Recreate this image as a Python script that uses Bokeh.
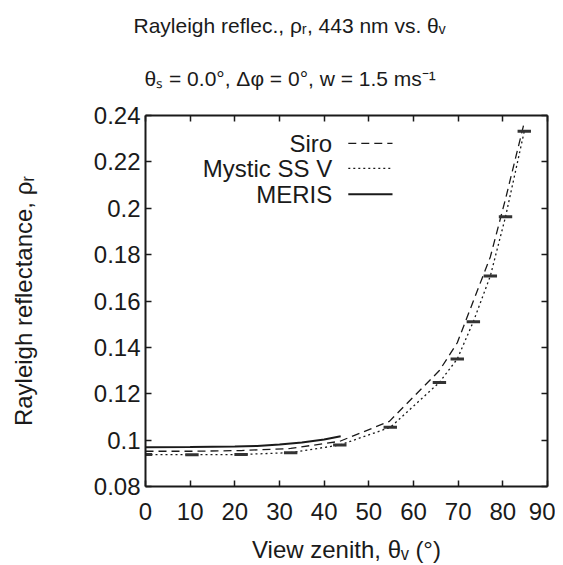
from bokeh.plotting import figure
from bokeh.models import Range1d, FixedTicker, LinearAxis, CustomJSTickFormatter, Label, Title
from bokeh.embed import file_html
from bokeh.resources import INLINE

# ---------------- data ----------------
mystic_theta = [0.0, 10.4, 21.4, 32.5, 43.5, 54.8, 65.8, 69.8, 73.4, 77.2, 80.6, 84.8]
mystic_rho = [0.0938, 0.0937, 0.0938, 0.0946, 0.0979, 0.1055, 0.1249, 0.1350, 0.1511, 0.1708, 0.1963, 0.2332]
mystic_xerr = [1.5, 1.5, 1.5, 1.5, 1.5, 1.5, 1.5, 1.5, 1.5, 1.5, 1.5, 1.5]

siro_theta = [0.0, 10.4, 21.4, 32.5, 43.5, 54.6, 65.8, 69.8, 73.4, 77.2, 80.6, 84.8]
siro_rho = [0.0952, 0.0952, 0.0955, 0.0964, 0.0995, 0.1081, 0.1300, 0.1420, 0.1600, 0.1790, 0.2040, 0.2370]

meris_theta = [0.0, 10.0, 20.0, 25.0, 30.0, 35.0, 40.0, 43.7]
meris_rho = [0.0969, 0.0970, 0.0972, 0.0975, 0.0981, 0.0990, 0.1003, 0.1017]

x_ticks = [0, 10, 20, 30, 40, 50, 60, 70, 80, 90]
y_ticks = [0.08, 0.10, 0.12, 0.14, 0.16, 0.18, 0.20, 0.22, 0.24]

legend_labels = ["Siro", "Mystic SS V", "MERIS"]
title_line1 = "Rayleigh reflec., \u03c1\u1d63, 443 nm vs. \u03b8\u1d65"
title_line2 = "\u03b8\u209b = 0.0\u00b0, \u0394\u03c6 = 0\u00b0, w = 1.5 ms\u207b\u00b9"
x_label = "View zenith, \u03b8\u1d65 (\u00b0)"
y_label = "Rayleigh reflectance, \u03c1\u1d63"

FONT = "Liberation Sans"
INK = "#1a1a1a"

p = figure(width=555, height=565, x_range=Range1d(0, 90), y_range=Range1d(0.08, 0.24),
           output_backend="svg", toolbar_location=None,
           min_border_left=145, min_border_right=8, min_border_top=115, min_border_bottom=78)
p.grid.visible = False
p.outline_line_color = None
p.background_fill_color = "white"
p.border_fill_color = "white"

def style_axis(ax, labels=True):
    ax.axis_line_width = 2
    ax.axis_line_color = INK
    ax.major_tick_in = 6
    ax.major_tick_out = 0
    ax.major_tick_line_width = 1.5
    ax.major_tick_line_color = INK
    ax.minor_tick_line_color = None
    ax.major_label_text_font = FONT
    ax.major_label_text_color = INK
    if labels:
        ax.major_label_text_font_size = "24px"
    ax.axis_label_text_font = FONT
    ax.axis_label_text_font_size = "24px"
    ax.axis_label_text_font_style = "normal"
    ax.axis_label_text_color = INK

xa = p.xaxis[0]
ya = p.yaxis[0]
xa.ticker = FixedTicker(ticks=x_ticks)
ya.ticker = FixedTicker(ticks=y_ticks)
ya.formatter = CustomJSTickFormatter(code="return tick.toFixed(2).replace(/0$/, '');")
style_axis(xa)
style_axis(ya)
xa.axis_label = x_label
ya.axis_label = y_label
xa.major_label_standoff = 16
xa.axis_label_standoff = 13
ya.major_label_standoff = 5
ya.axis_label_standoff = 54

blank = CustomJSTickFormatter(code="return '';")
top = LinearAxis(ticker=FixedTicker(ticks=x_ticks), formatter=blank)
right = LinearAxis(ticker=FixedTicker(ticks=y_ticks), formatter=blank)
for ax in (top, right):
    style_axis(ax, labels=False)
    ax.major_label_text_font_size = "1px"
    ax.major_label_standoff = 0
p.add_layout(top, "above")
p.add_layout(right, "right")

# ---------------- titles (two lines, outer one added last) ----------------
p.add_layout(Title(text=title_line2, align="left", offset=-1, standoff=52, vertical_align="bottom",
                   text_font=FONT, text_font_size="21px", text_font_style="normal", text_color=INK), "above")
p.add_layout(Title(text=title_line1, align="left", offset=-12, standoff=3, vertical_align="bottom",
                   text_font=FONT, text_font_size="21px", text_font_style="normal", text_color=INK), "above")

# ---------------- data lines ----------------
p.line(siro_theta, siro_rho, line_color=INK, line_width=1.3, line_dash="8 5")
p.line(mystic_theta, mystic_rho, line_color=INK, line_width=1.3, line_dash="2 3")
p.line(meris_theta, meris_rho, line_color=INK, line_width=2)
p.segment(x0=[t - e for t, e in zip(mystic_theta, mystic_xerr)],
          x1=[t + e for t, e in zip(mystic_theta, mystic_xerr)],
          y0=mystic_rho, y1=mystic_rho, line_color="#333333", line_width=3)

# ---------------- legend (label left of sample, as in reference) ----------------
leg_y = [0.2280, 0.2172, 0.2060]
leg_text_x = 41.8
leg_x0, leg_x1 = 45.4, 55.3
dashes = ["8 5", "2 3", "solid"]
widths = [1.3, 1.3, 2]
for lab, yy, dsh, lw in zip(legend_labels, leg_y, dashes, widths):
    p.add_layout(Label(x=leg_text_x, y=yy, text=lab, text_align="right", text_baseline="middle",
                       text_font=FONT, text_font_size="24px", text_color=INK))
    p.line([leg_x0, leg_x1], [yy, yy], line_color=INK, line_width=lw, line_dash=dsh)

open("out.html", "w").write(file_html(p, INLINE))
